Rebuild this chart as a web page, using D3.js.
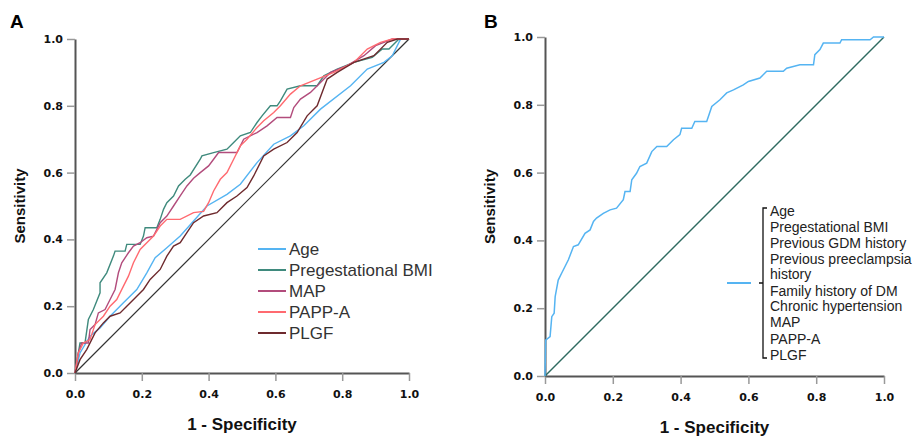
<!DOCTYPE html>
<html>
<head>
<meta charset="utf-8">
<script src="https://cdn.jsdelivr.net/npm/d3@7"></script>
<style>
  body { margin: 0; background: #fff; }
  svg { display: block; }
  .tick text { font-family: "DejaVu Sans", sans-serif; font-weight: bold; font-size: 11px; fill: #111; }
  .lbl { font-family: Arial, "Liberation Sans", sans-serif; }
</style>
</head>
<body>
<div id="chart"></div>
<script>
// ROC points [1 - specificity, sensitivity]
var ageRoc = [[0,0],[0.015,0.06],[0.045,0.11],[0.075,0.135],[0.105,0.17],[0.145,0.21],[0.185,0.25],[0.215,0.30],[0.24,0.345],[0.275,0.375],[0.315,0.41],[0.355,0.455],[0.395,0.50],[0.455,0.535],[0.495,0.565],[0.545,0.63],[0.595,0.685],[0.645,0.71],[0.685,0.74],[0.735,0.79],[0.825,0.86],[0.875,0.91],[0.925,0.93],[0.95,0.95],[0.965,0.98],[0.975,1],[1,1]];
var bmiRoc = [[0,0],[0.015,0.09],[0.03,0.09],[0.04,0.16],[0.055,0.19],[0.075,0.24],[0.075,0.27],[0.095,0.30],[0.115,0.35],[0.12,0.365],[0.15,0.365],[0.155,0.385],[0.195,0.385],[0.205,0.41],[0.21,0.435],[0.245,0.435],[0.255,0.46],[0.265,0.49],[0.275,0.51],[0.295,0.53],[0.31,0.56],[0.33,0.58],[0.345,0.593],[0.375,0.64],[0.38,0.65],[0.415,0.66],[0.455,0.67],[0.475,0.69],[0.495,0.71],[0.525,0.72],[0.545,0.75],[0.56,0.77],[0.585,0.80],[0.605,0.80],[0.615,0.815],[0.635,0.85],[0.675,0.86],[0.725,0.86],[0.745,0.89],[0.785,0.91],[0.835,0.93],[0.89,0.945],[0.92,0.97],[0.94,0.97],[0.97,1],[1,1]];
var mapRoc = [[0,0],[0.01,0.06],[0.02,0.09],[0.04,0.09],[0.045,0.13],[0.06,0.145],[0.07,0.18],[0.09,0.19],[0.105,0.22],[0.12,0.25],[0.13,0.30],[0.14,0.33],[0.16,0.36],[0.175,0.38],[0.195,0.39],[0.215,0.405],[0.235,0.41],[0.255,0.45],[0.275,0.47],[0.295,0.50],[0.315,0.53],[0.335,0.56],[0.355,0.583],[0.375,0.60],[0.4,0.62],[0.415,0.64],[0.43,0.66],[0.485,0.66],[0.505,0.70],[0.545,0.72],[0.575,0.74],[0.605,0.765],[0.645,0.765],[0.655,0.795],[0.675,0.82],[0.705,0.84],[0.735,0.87],[0.765,0.90],[0.815,0.92],[0.865,0.95],[0.9,0.98],[0.95,1],[1,1]];
var pappRoc = [[0,0],[0.01,0.06],[0.025,0.09],[0.045,0.10],[0.06,0.145],[0.085,0.17],[0.105,0.20],[0.125,0.22],[0.145,0.26],[0.16,0.29],[0.175,0.33],[0.195,0.37],[0.215,0.39],[0.235,0.41],[0.255,0.44],[0.275,0.46],[0.315,0.46],[0.355,0.48],[0.385,0.484],[0.4,0.51],[0.415,0.545],[0.435,0.58],[0.455,0.60],[0.475,0.64],[0.495,0.68],[0.515,0.70],[0.545,0.735],[0.565,0.755],[0.595,0.78],[0.615,0.80],[0.645,0.835],[0.675,0.86],[0.725,0.88],[0.775,0.90],[0.835,0.93],[0.875,0.97],[0.915,0.99],[0.95,1],[1,1]];
var plgfRoc = [[0,0],[0.015,0.04],[0.035,0.07],[0.06,0.12],[0.085,0.15],[0.105,0.17],[0.135,0.18],[0.155,0.20],[0.185,0.23],[0.205,0.25],[0.225,0.28],[0.255,0.31],[0.275,0.35],[0.295,0.38],[0.315,0.39],[0.335,0.42],[0.355,0.45],[0.385,0.47],[0.425,0.48],[0.455,0.51],[0.485,0.53],[0.515,0.555],[0.535,0.59],[0.565,0.65],[0.595,0.67],[0.635,0.69],[0.665,0.72],[0.695,0.77],[0.725,0.80],[0.755,0.88],[0.785,0.90],[0.835,0.93],[0.895,0.95],[0.935,0.99],[0.965,1],[1,1]];
var combinedRoc = [[0,0],[0.002,0.106],[0.015,0.116],[0.02,0.175],[0.027,0.185],[0.03,0.234],[0.039,0.283],[0.049,0.303],[0.059,0.323],[0.069,0.343],[0.084,0.382],[0.098,0.387],[0.118,0.421],[0.133,0.431],[0.143,0.456],[0.152,0.466],[0.172,0.48],[0.192,0.49],[0.211,0.495],[0.231,0.52],[0.236,0.544],[0.251,0.544],[0.256,0.579],[0.27,0.598],[0.28,0.618],[0.3,0.628],[0.315,0.662],[0.33,0.677],[0.359,0.677],[0.379,0.697],[0.398,0.712],[0.403,0.731],[0.433,0.731],[0.442,0.751],[0.477,0.751],[0.492,0.795],[0.516,0.815],[0.536,0.835],[0.556,0.844],[0.585,0.859],[0.6,0.869],[0.634,0.879],[0.654,0.899],[0.703,0.899],[0.713,0.908],[0.752,0.918],[0.792,0.918],[0.796,0.948],[0.811,0.963],[0.821,0.982],[0.87,0.982],[0.875,0.992],[0.959,0.992],[0.969,1],[1,1]];

var seriesNamesA = ["Age", "Pregestational BMI", "MAP", "PAPP-A", "PLGF"];
var seriesColorsA = ["#55b4f2", "#3f8a7d", "#b24c7c", "#ff6a70", "#6e2a2e"];
var seriesDataA = [ageRoc, bmiRoc, mapRoc, pappRoc, plgfRoc];
var combinedNames = ["Age", "Pregestational BMI", "Previous GDM history", "Previous preeclampsia", "history",
  "Family history of DM", "Chronic hypertension", "MAP", "PAPP-A", "PLGF"];
var tickValues = [0, 0.2, 0.4, 0.6, 0.8, 1.0];

var svg = d3.select("#chart").append("svg").attr("width", 915).attr("height", 436);

function drawPanel(left, top, size, label, labelX) {
  var x = d3.scaleLinear().domain([0, 1]).range([left, left + size]);
  var y = d3.scaleLinear().domain([0, 1]).range([top + size, top]);
  var g = svg.append("g");

  var xa = g.append("g").attr("transform", "translate(0," + (top + size) + ")")
    .call(d3.axisBottom(x).tickValues(tickValues).tickFormat(d3.format(".1f")).tickSize(8).tickSizeOuter(0).tickPadding(9));
  var ya = g.append("g").attr("transform", "translate(" + left + ",0)")
    .call(d3.axisLeft(y).tickValues(tickValues).tickFormat(d3.format(".1f")).tickSize(8).tickSizeOuter(0).tickPadding(4));
  [xa, ya].forEach(function (a) {
    a.select(".domain").attr("stroke", "#555").attr("stroke-width", 2);
    a.selectAll(".tick line").attr("stroke", "#999").attr("stroke-width", 1.5);
  });

  g.append("text").attr("class", "lbl").attr("x", labelX).attr("y", 28)
    .style("font-weight", "bold").style("font-size", "19px")
    .text(label);
  g.append("text").attr("class", "lbl").attr("transform", "translate(" + (left - 50) + "," + (top + size * 0.5) + ") rotate(-90)")
    .attr("text-anchor", "middle")
    .style("font-weight", "bold").style("font-size", "15px").style("fill", "#111")
    .text("Sensitivity");
  g.append("text").attr("class", "lbl").attr("x", left + size * 0.5).attr("y", top + size + 57)
    .attr("text-anchor", "middle")
    .style("font-weight", "bold").style("font-size", "17px").style("fill", "#111")
    .text("1 - Specificity");

  return { x: x, y: y, g: g };
}

// panel A
var A = drawPanel(75, 39, 334, "A", 10);
var lineA = d3.line().x(function (d) { return A.x(d[0]); }).y(function (d) { return A.y(d[1]); });
A.g.append("path").datum([[0, 0], [1, 1]]).attr("d", lineA)
  .attr("fill", "none").attr("stroke", "#333").attr("stroke-width", 1.2);
seriesDataA.forEach(function (s, i) {
  A.g.append("path").datum(s).attr("d", lineA)
    .attr("fill", "none").attr("stroke", seriesColorsA[i]).attr("stroke-width", 1.4);
});

var legA = A.g.append("g");
seriesNamesA.forEach(function (n, i) {
  var yy = 249 + i * 21;
  legA.append("line").attr("x1", 258).attr("x2", 286).attr("y1", yy).attr("y2", yy)
    .attr("stroke", seriesColorsA[i]).attr("stroke-width", 2);
  legA.append("text").attr("class", "lbl").attr("x", 289).attr("y", yy + 6)
    .style("font-size", "17px").style("fill", "#333")
    .text(n);
});

// panel B
var B = drawPanel(545, 37, 339, "B", 484);
var lineB = d3.line().x(function (d) { return B.x(d[0]); }).y(function (d) { return B.y(d[1]); });
B.g.append("path").datum([[0, 0], [1, 1]]).attr("d", lineB)
  .attr("fill", "none").attr("stroke", "#2f6b60").attr("stroke-width", 1.4);
B.g.append("path").datum(combinedRoc).attr("d", lineB)
  .attr("fill", "none").attr("stroke", "#55b4f2").attr("stroke-width", 1.5);

var legB = B.g.append("g");
legB.append("line").attr("x1", 727).attr("x2", 751).attr("y1", 283).attr("y2", 283)
  .attr("stroke", "#55b4f2").attr("stroke-width", 2);
legB.append("path")
  .attr("d", "M767,208 H763 V358 H767 M759,283 H763")
  .attr("fill", "none").attr("stroke", "#111").attr("stroke-width", 1.3);
combinedNames.forEach(function (n, i) {
  var yy = [211, 227, 243, 259, 274, 291, 306, 322, 339, 355][i];
  legB.append("text").attr("class", "lbl").attr("x", 770).attr("y", yy + 5)
    .style("font-size", "14px").style("fill", "#222")
    .text(n);
});
</script>
</body>
</html>
